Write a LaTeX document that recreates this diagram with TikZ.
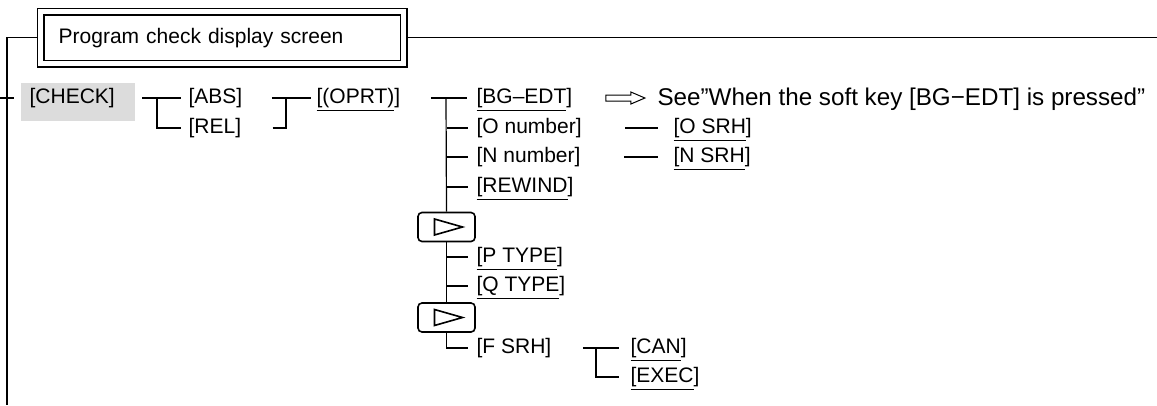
\documentclass[tikz,border=0pt]{standalone}
\usepackage{fontspec}
\setmainfont{Liberation Sans}
\usepackage{tikz}
\usetikzlibrary{calc}
\definecolor{checkgray}{RGB}{220,220,220}
\newcommand{\keyul}[1]{\setbox0=\hbox{#1}\rlap{\smash{\vrule height -6.5pt depth 7.8pt width \wd0}}\box0}

\begin{document}
\begin{tikzpicture}[x=1pt, y=-1pt, line width=1.2pt,
    key/.style={anchor=west, inner sep=0pt, font=\fontsize{21}{25}\selectfont},
    softkey/.style={draw, rounded corners=4pt, minimum width=57pt, minimum height=29pt, inner sep=0pt, line width=1.6pt}]
    \useasboundingbox (0,0) rectangle (1157,405);

    \node[key, draw, double, double distance=5pt, line width=1.4pt, minimum height=52pt,
        text width=327.5pt, inner xsep=17.75pt, align=left] (title) at (40.25,37.75) {Program check display screen};
    \coordinate (lt) at (7,37.75);
    \coordinate (lb) at (7,405);
    \coordinate (rt) at (1157,37.75);
    \coordinate (tk) at (0,98);
    \draw ([xshift=-3.3pt]title.west) -- (lt) -- (lb);
    \draw ([xshift=3.3pt]title.east) -- (rt);
    \draw (tk) -- ++(14,0);

    \fill[checkgray] (21,83) rectangle (135,121);
    \node[key] (check) at (29,98) {[CHECK]};
    \node[key] (abs) at (188,98) {[ABS]};
    \node[key] (rel) at (188,128) {[REL]};
    \node[key] (oprt) at (316,98) {\keyul{[(OPRT)}]};
    \node[key] (bgedt) at (476,98) {\keyul{[BG--EDT}]};
    \node[key] (onum) at (476,128) {[O number]};
    \node[key] (nnum) at (476,157) {[N number]};
    \node[key] (rewind) at (476,187) {\keyul{[REWIND}]};
    \node[softkey] (softa) at (446.5,227) {};
    \node[key] (ptype) at (476,257) {\keyul{[P TYPE}]};
    \node[key] (qtype) at (476,286) {\keyul{[Q TYPE}]};
    \node[softkey] (softb) at (446.5,317.5) {};
    \node[key] (fsrh) at (476,348) {[F SRH]};
    \node[key] (can) at (630,348) {\keyul{[CAN}]};
    \node[key] (exec) at (630,377) {\keyul{[EXEC}]};
    \node[key] (osrh) at (673,128) {\keyul{[O SRH}]};
    \node[key] (nsrh) at (673,157) {\keyul{[N SRH}]};
    \node[key, font=\fontsize{24.2}{29}\selectfont] (see) at (657,99.5) {See”When the soft key [BG−EDT] is pressed”};

    \draw ([xshift=27pt]check.east) -- ([xshift=-7pt]abs.west);
    \draw ([xshift=-31pt]abs.west) |- ([xshift=-7pt]rel.west);
    \draw ([xshift=29pt]abs.east) -- ([xshift=-5pt]oprt.west);
    \draw ([xshift=31pt]rel.east) -| ([xshift=-30pt]oprt.west);
    \draw ([xshift=30pt]oprt.east) -- ([xshift=-9pt]bgedt.west);
    \draw ([xshift=-30pt]bgedt.west) -- (softa.north);
    \foreach \n in {onum,nnum,rewind}
        \draw (softa.north |- \n.west) -- ([xshift=-8pt]\n.west);
    \draw (softa.south) -- (softb.north);
    \foreach \n in {ptype,qtype}
        \draw (softa.north |- \n.west) -- ([xshift=-8pt]\n.west);
    \draw (softb.south) |- ([xshift=-8pt]fsrh.west);
    \draw ([xshift=31pt]fsrh.east) -- ([xshift=-11pt]can.west);
    \draw ([xshift=-34pt]can.west) |- ([xshift=-11pt]exec.west);
    \draw ([xshift=43pt]onum.east) -- ([xshift=-15pt]osrh.west);
    \draw ([xshift=43pt]nnum.east) -- ([xshift=-15pt]nsrh.west);

    \draw[line width=1pt] ([xshift=33pt]bgedt.east) ++(0,-3) -- ++(25,0) -- ++(0,-3)
        -- ++(14,6) -- ++(-14,6) -- ++(0,-3) -- ++(-25,0) -- cycle;
    \foreach \s in {softa,softb}
        \draw[line width=1.6pt] ([xshift=-12pt,yshift=-8pt]\s.center) -- ([xshift=16pt]\s.center)
            -- ([xshift=-12pt,yshift=8pt]\s.center) -- cycle;
\end{tikzpicture}
\end{document}
